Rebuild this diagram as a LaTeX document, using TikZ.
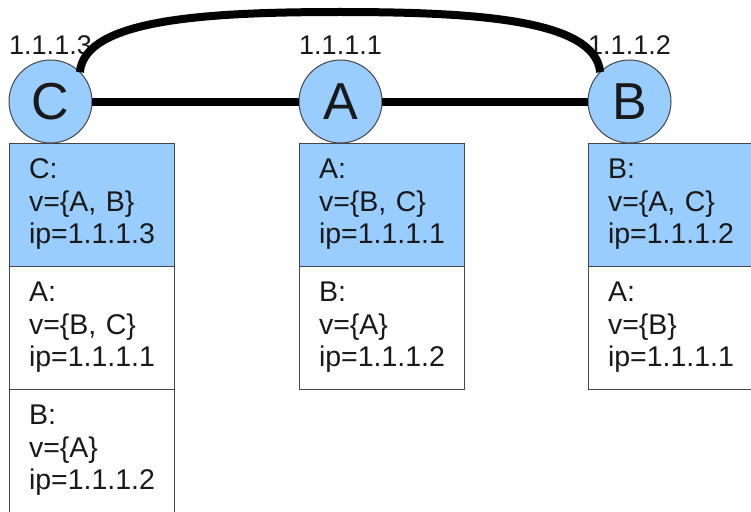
\documentclass[tikz,border=0pt]{standalone}
\usepackage{fontspec}
\setmainfont{Liberation Sans}
\usetikzlibrary{positioning}
\definecolor{nodeblue}{RGB}{153,204,255}
\definecolor{ink}{RGB}{25,25,25}
\definecolor{frame}{RGB}{70,70,70}
\tikzset{
  host/.style={circle, draw=frame, line width=1pt, fill=nodeblue, minimum size=83pt,
               inner sep=0pt, outer sep=0pt, text=ink, font=\fontsize{52}{60}\selectfont},
  addr/.style={anchor=base, inner sep=0pt, text=ink, font=\fontsize{27}{32}\selectfont},
  entry/.style={draw=frame, line width=1pt, anchor=north west, outer sep=0pt,
               inner xsep=20pt, inner ysep=0pt, text width=125pt, minimum height=123pt,
               align=left, text=ink, font=\fontsize{28.5}{32.5}\selectfont},
  own/.style={entry, fill=nodeblue},
  link/.style={line width=8pt, black},
}
\begin{document}
\begin{tikzpicture}[x=1pt,y=-1pt]
  \useasboundingbox (0,0) rectangle (751,511);
  % hosts
  \node[host] (c) at (50.5,101.5) {C};
  \node[host] (a) at (340.5,101.5) {A};
  \node[host] (b) at (629.5,101.5) {B};
  % addresses
  \node[addr] (ipc) at ([yshift=6pt]c.north) {1.1.1.3};
  \node[addr] (ipa) at ([yshift=6pt]a.north) {1.1.1.1};
  \node[addr] (ipb) at ([yshift=6pt]b.north) {1.1.1.2};
  % tables
  \node[own] (c1) at (c.west |- c.south) {C:\\v=\{A, B\}\\ip=1.1.1.3};
  \node[entry, below=0pt of c1] (c2) {A:\\v=\{B, C\}\\ip=1.1.1.1};
  \node[entry, below=0pt of c2] (c3) {B:\\v=\{A\}\\ip=1.1.1.2};
  \node[own] (a1) at (a.west |- a.south) {A:\\v=\{B, C\}\\ip=1.1.1.1};
  \node[entry, below=0pt of a1] (a2) {B:\\v=\{A\}\\ip=1.1.1.2};
  \node[own] (b1) at (b.west |- b.south) {B:\\v=\{A, C\}\\ip=1.1.1.2};
  \node[entry, below=0pt of b1] (b2) {A:\\v=\{B\}\\ip=1.1.1.1};
  % links
  \coordinate (top) at (340,12);
  \draw[link] (c) -- (a);
  \draw[link] (a) -- (b);
  \draw[link] (c.45) .. controls +(5,-52) and +(-140,0) .. (top)
              .. controls +(140,0) and +(-5,-52) .. (b.135);
\end{tikzpicture}
\end{document}
